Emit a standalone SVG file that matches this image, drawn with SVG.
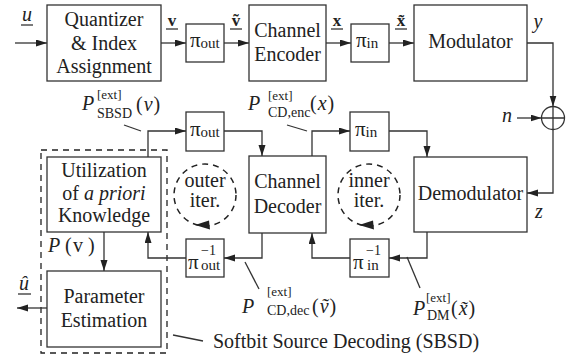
<svg xmlns="http://www.w3.org/2000/svg" width="582" height="358" viewBox="0 0 582 358">
<defs>
<marker id="ah" markerUnits="userSpaceOnUse" markerWidth="12" markerHeight="8" refX="11" refY="3.5" orient="auto">
<path d="M0,0 L11,3.5 L0,7 z" fill="#222"/>
</marker>
</defs>
<rect width="582" height="358" fill="#fff"/>

<g id="sbsd-frame">
<rect x="41" y="150" width="126" height="203" fill="none" stroke="#222" stroke-width="1.3" stroke-dasharray="6,5"/>
</g>

<g id="quantizer">
<rect x="47" y="5" width="114" height="76" fill="#fff" stroke="#333" stroke-width="1.3"/>
<text style="font-family:'Liberation Serif',serif !important" font-size="20" fill="#222" text-anchor="middle" x="104" y="26">Quantizer</text>
<text style="font-family:'Liberation Serif',serif !important" font-size="20" fill="#222" text-anchor="middle" x="104" y="50">&amp; Index</text>
<text style="font-family:'Liberation Serif',serif !important" font-size="20" fill="#222" text-anchor="middle" x="104" y="73">Assignment</text>
</g>

<g id="pi-out-top">
<rect x="186" y="24" width="38" height="38" fill="#fff" stroke="#333" stroke-width="1.3"/>
<text style="font-family:'Liberation Serif',serif !important" fill="#222" x="190" y="47" font-size="21">π<tspan font-size="15" dy="1">out</tspan></text>
</g>

<g id="channel-encoder">
<rect x="249" y="5" width="77" height="76" fill="#fff" stroke="#333" stroke-width="1.3"/>
<text style="font-family:'Liberation Serif',serif !important" font-size="20" fill="#222" text-anchor="middle" x="287.5" y="37">Channel</text>
<text style="font-family:'Liberation Serif',serif !important" font-size="20" fill="#222" text-anchor="middle" x="287.5" y="61">Encoder</text>
</g>

<g id="pi-in-top">
<rect x="351" y="24" width="38" height="38" fill="#fff" stroke="#333" stroke-width="1.3"/>
<text style="font-family:'Liberation Serif',serif !important" fill="#222" x="356" y="47" font-size="21">π<tspan font-size="15" dy="1">in</tspan></text>
</g>

<g id="modulator">
<rect x="414" y="5" width="113" height="76" fill="#fff" stroke="#333" stroke-width="1.3"/>
<text style="font-family:'Liberation Serif',serif !important" font-size="20" fill="#222" text-anchor="middle" x="470.5" y="48">Modulator</text>
</g>

<g id="adder">
<circle cx="553" cy="118" r="11.5" fill="#fff" stroke="#333" stroke-width="1.3"/>
<path d="M541.5,118 H564.5 M553,106.5 V129.5" fill="none" stroke="#333" stroke-width="1.3"/>
</g>

<g id="pi-out-mid">
<rect x="186" y="112" width="38" height="39" fill="#fff" stroke="#333" stroke-width="1.3"/>
<text style="font-family:'Liberation Serif',serif !important" fill="#222" x="190" y="136" font-size="21">π<tspan font-size="15" dy="1">out</tspan></text>
</g>

<g id="pi-in-mid">
<rect x="350" y="112" width="39" height="39" fill="#fff" stroke="#333" stroke-width="1.3"/>
<text style="font-family:'Liberation Serif',serif !important" fill="#222" x="355" y="136" font-size="21">π<tspan font-size="15" dy="1">in</tspan></text>
</g>

<g id="utilization">
<rect x="47" y="157" width="114" height="75" fill="#fff" stroke="#333" stroke-width="1.3"/>
<text style="font-family:'Liberation Serif',serif !important" font-size="20" fill="#222" text-anchor="middle" x="104" y="177">Utilization</text>
<text style="font-family:'Liberation Serif',serif !important" font-size="20" fill="#222" text-anchor="middle" x="104" y="199.5">of <tspan font-style="italic">a priori</tspan></text>
<text style="font-family:'Liberation Serif',serif !important" font-size="20" fill="#222" text-anchor="middle" x="104" y="222">Knowledge</text>
</g>

<g id="outer-iter">
<circle cx="205" cy="195" r="31" fill="none" stroke="#222" stroke-width="1.5" stroke-dasharray="6,5"/>
<text style="font-family:'Liberation Serif',serif !important" font-size="20" fill="#222" text-anchor="middle" x="205" y="187">outer</text>
<text style="font-family:'Liberation Serif',serif !important" font-size="20" fill="#222" text-anchor="middle" x="205" y="207">iter.</text>
<polygon points="195,225 209,220.5 210,229.5" fill="#222"/>
</g>

<g id="channel-decoder">
<rect x="249" y="156" width="77" height="77" fill="#fff" stroke="#333" stroke-width="1.3"/>
<text style="font-family:'Liberation Serif',serif !important" font-size="20" fill="#222" text-anchor="middle" x="287.5" y="188">Channel</text>
<text style="font-family:'Liberation Serif',serif !important" font-size="20" fill="#222" text-anchor="middle" x="287.5" y="213">Decoder</text>
</g>

<g id="inner-iter">
<circle cx="369" cy="195" r="31" fill="none" stroke="#222" stroke-width="1.5" stroke-dasharray="6,5"/>
<text style="font-family:'Liberation Serif',serif !important" font-size="20" fill="#222" text-anchor="middle" x="369" y="187">inner</text>
<text style="font-family:'Liberation Serif',serif !important" font-size="20" fill="#222" text-anchor="middle" x="369" y="207">iter.</text>
<polygon points="359,225 373,220.5 374,229.5" fill="#222"/>
</g>

<g id="demodulator">
<rect x="414" y="157" width="113" height="75" fill="#fff" stroke="#333" stroke-width="1.3"/>
<text style="font-family:'Liberation Serif',serif !important" font-size="20" fill="#222" text-anchor="middle" x="470.5" y="200">Demodulator</text>
</g>

<g id="pi-out-inv">
<rect x="186" y="239" width="38" height="38" fill="#fff" stroke="#333" stroke-width="1.3"/>
<text style="font-family:'Liberation Serif',serif !important" fill="#222" x="188" y="269" font-size="21">π</text>
<text style="font-family:'Liberation Serif',serif !important" fill="#222" x="201" y="255" font-size="14">−1</text>
<text style="font-family:'Liberation Serif',serif !important" fill="#222" x="201" y="270" font-size="15">out</text>
</g>

<g id="pi-in-inv">
<rect x="350" y="239" width="39" height="38" fill="#fff" stroke="#333" stroke-width="1.3"/>
<text style="font-family:'Liberation Serif',serif !important" fill="#222" x="353" y="269" font-size="21">π</text>
<text style="font-family:'Liberation Serif',serif !important" fill="#222" x="366" y="255" font-size="14">−1</text>
<text style="font-family:'Liberation Serif',serif !important" fill="#222" x="367" y="270" font-size="15">in</text>
</g>

<g id="parameter-estimation">
<rect x="47" y="271" width="114" height="76" fill="#fff" stroke="#333" stroke-width="1.3"/>
<text style="font-family:'Liberation Serif',serif !important" font-size="20" fill="#222" text-anchor="middle" x="104" y="302.5">Parameter</text>
<text style="font-family:'Liberation Serif',serif !important" font-size="20" fill="#222" text-anchor="middle" x="104" y="327">Estimation</text>
</g>

<g id="connectors" fill="none" stroke="#333" stroke-width="1.3">
<g marker-end="url(#ah)">
<path d="M15,43 H47"/>
<path d="M161,43 H186"/>
<path d="M224,43 H249"/>
<path d="M326,43 H351"/>
<path d="M389,43 H414"/>
<path d="M527,43 H553 V106.5"/>
<path d="M517,118 H541.5"/>
<path d="M553,129.5 V193 H527"/>
<path d="M427,232 V258 H389"/>
<path d="M350,258 H312 V233"/>
<path d="M312,156 V131 H350"/>
<path d="M389,131 H427 V157"/>
<path d="M262,233 V258 H224"/>
<path d="M186,258 H148 V232"/>
<path d="M148,157 V131 H186"/>
<path d="M224,131 H262 V156"/>
<path d="M104,232 V271"/>
<path d="M47,308 H17"/>
</g>
<path d="M124,125 L141,131"/>
<path d="M287,125 L307,131"/>
<path d="M245,262 L259,289"/>
<path d="M407,257 L420,288"/>
<path d="M173,335 L203,341"/>
<path d="M21,25 H33"/>
<path d="M166,29 H178"/>
<path d="M230,29 H242"/>
<path d="M331,29 H343"/>
<path d="M395,29 H407"/>
<path d="M18,294 H31"/>
</g>

<g id="labels">
<text style="font-family:'Liberation Serif',serif !important" font-size="20" fill="#222" font-style="italic" x="27" y="21" text-anchor="middle">u</text>
<text style="font-family:'Liberation Serif',serif !important" fill="#222" font-weight="bold" x="172" y="26" font-size="17" text-anchor="middle">v</text>
<text style="font-family:'Liberation Serif',serif !important" fill="#222" font-weight="bold" x="236" y="26" font-size="17" text-anchor="middle">ṽ</text>
<text style="font-family:'Liberation Serif',serif !important" fill="#222" font-weight="bold" x="337" y="26" font-size="17" text-anchor="middle">x</text>
<text style="font-family:'Liberation Serif',serif !important" fill="#222" font-weight="bold" x="401" y="26" font-size="17" text-anchor="middle">x̃</text>
<text style="font-family:'Liberation Serif',serif !important" font-size="20" fill="#222" font-style="italic" x="538" y="28" text-anchor="middle">y</text>
<text style="font-family:'Liberation Serif',serif !important" font-size="20" fill="#222" font-style="italic" x="507" y="122" text-anchor="middle">n</text>
<text style="font-family:'Liberation Serif',serif !important" font-size="20" fill="#222" font-style="italic" x="539" y="218" text-anchor="middle">z</text>
<text style="font-family:'Liberation Serif',serif !important" font-size="20" fill="#222" font-style="italic" x="24" y="290" text-anchor="middle">û</text>
<text style="font-family:'Liberation Serif',serif !important" font-size="20" fill="#222" x="48" y="252"><tspan font-style="italic">P</tspan><tspan x="65">(</tspan><tspan x="73">v</tspan><tspan x="88">)</tspan></text>

<text style="font-family:'Liberation Serif',serif !important" font-size="20" fill="#222" font-style="italic" x="82" y="110">P</text>
<text style="font-family:'Liberation Serif',serif !important" font-size="13" fill="#222" x="97" y="99">[ext]</text>
<text style="font-family:'Liberation Serif',serif !important" font-size="14" fill="#222" x="97" y="118">SBSD</text>
<text style="font-family:'Liberation Serif',serif !important" font-size="20" fill="#222" x="136" y="111" letter-spacing="1">(<tspan font-style="italic">v</tspan>)</text>

<text style="font-family:'Liberation Serif',serif !important" font-size="20" fill="#222" font-style="italic" x="248" y="110">P</text>
<text style="font-family:'Liberation Serif',serif !important" font-size="13" fill="#222" x="268" y="100">[ext]</text>
<text style="font-family:'Liberation Serif',serif !important" font-size="14" fill="#222" x="268" y="117">CD,enc</text>
<text style="font-family:'Liberation Serif',serif !important" font-size="20" fill="#222" x="310" y="110" letter-spacing="1">(<tspan font-style="italic">x</tspan>)</text>

<text style="font-family:'Liberation Serif',serif !important" font-size="20" fill="#222" font-style="italic" x="242" y="313">P</text>
<text style="font-family:'Liberation Serif',serif !important" font-size="13" fill="#222" x="267" y="296">[ext]</text>
<text style="font-family:'Liberation Serif',serif !important" font-size="14" fill="#222" x="267" y="315">CD,dec</text>
<text style="font-family:'Liberation Serif',serif !important" font-size="20" fill="#222" x="312" y="313" letter-spacing="1">(<tspan font-style="italic">ṽ</tspan>)</text>

<text style="font-family:'Liberation Serif',serif !important" font-size="20" fill="#222" font-style="italic" x="413" y="315">P</text>
<text style="font-family:'Liberation Serif',serif !important" font-size="13" fill="#222" x="426" y="302">[ext]</text>
<text style="font-family:'Liberation Serif',serif !important" font-size="14" fill="#222" x="427" y="320">DM</text>
<text style="font-family:'Liberation Serif',serif !important" font-size="20" fill="#222" x="451" y="315" letter-spacing="1">(<tspan font-style="italic">x̃</tspan>)</text>

<text style="font-family:'Liberation Serif',serif !important" font-size="20" fill="#222" x="213" y="348">Softbit Source Decoding (SBSD)</text>
</g>
</svg>
